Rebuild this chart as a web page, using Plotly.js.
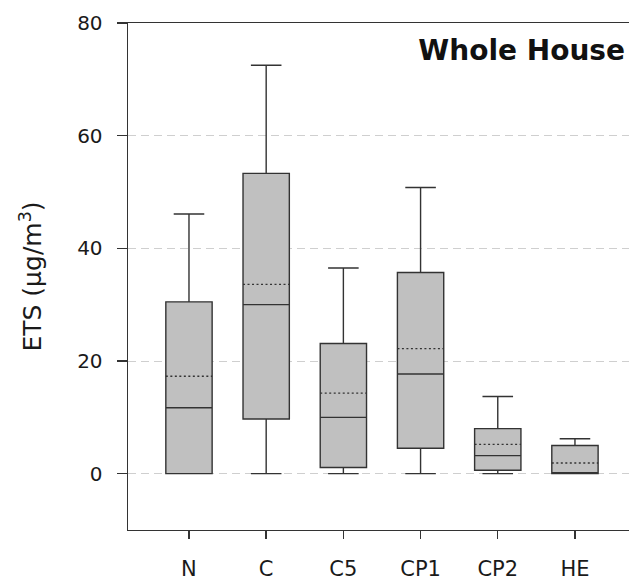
<!DOCTYPE html>
<html>
<head>
<meta charset="utf-8">
<script src="https://cdn.plot.ly/plotly-3.0.1.min.js"></script>
<style>
html, body { margin: 0; padding: 0; background: #fff; }
#chart { width: 629px; height: 580px; }
path.mean { stroke-dasharray: 2px,2.5px !important; }
</style>
</head>
<body>
<div id="chart"></div>
<script>
// Data (ETS, µg/m3)
var categories = ["N", "C", "C5", "CP1", "CP2", "HE"];
var lowerWhisker = [0, 0, 0, 0, 0, 0];
var q1Values = [0, 9.7, 1.1, 4.5, 0.6, 0];
var medianValues = [11.7, 30.0, 10.0, 17.7, 3.2, 0];
var q3Values = [30.5, 53.3, 23.1, 35.7, 8.0, 5.0];
var upperWhisker = [46.1, 72.5, 36.5, 50.8, 13.7, 6.2];
var meanValues = [17.3, 33.6, 14.3, 22.2, 5.2, 1.9];
var yTickValues = [0, 20, 40, 60, 80];

var trace = {
  type: 'box',
  x: categories,
  q1: q1Values,
  median: medianValues,
  q3: q3Values,
  lowerfence: lowerWhisker,
  upperfence: upperWhisker,
  mean: meanValues,
  boxmean: true,
  width: 0.6,
  whiskerwidth: 0.66,
  fillcolor: '#c0c0c0',
  line: { color: '#333333', width: 1.4 },
  boxpoints: false,
  hoverinfo: 'y',
  showlegend: false
};

var fontFamily = '"DejaVu Sans", "Liberation Sans", Arial, sans-serif';

var layout = {
  width: 629,
  height: 580,
  margin: { l: 128, r: 0, t: 23, b: 50 },
  paper_bgcolor: '#ffffff',
  plot_bgcolor: '#ffffff',
  title: {
    text: '<b>Whole House</b>',
    font: { family: fontFamily, size: 28, color: '#111' },
    xref: 'paper',
    x: 0.992,
    xanchor: 'right',
    yref: 'container',
    y: 1 - 50 / 580,
    yanchor: 'middle'
  },
  xaxis: {
    type: 'category',
    range: [-0.79, 5.7],
    showline: true,
    linecolor: '#333',
    linewidth: 1.4,
    mirror: true,
    ticks: 'outside',
    ticklen: 8,
    tickcolor: '#333',
    tickwidth: 1.4,
    ticklabelstandoff: 11,
    showgrid: false,
    tickfont: { family: fontFamily, size: 21, color: '#1a1a1a' }
  },
  yaxis: {
    range: [-10, 80],
    tickvals: yTickValues,
    showline: true,
    linecolor: '#333',
    linewidth: 1.4,
    ticks: 'outside',
    ticklen: 10,
    tickcolor: '#333',
    tickwidth: 1.4,
    ticklabelstandoff: 10,
    showgrid: true,
    gridcolor: '#cfcfcf',
    griddash: '8px,5px',
    gridwidth: 1,
    zeroline: false,
    tickfont: { family: fontFamily, size: 20, color: '#1a1a1a' },
    title: {
      text: 'ETS (µg/m<sup>3</sup>)',
      font: { family: fontFamily, size: 25, color: '#1a1a1a' },
      standoff: 28
    }
  }
};

Plotly.newPlot('chart', [trace], layout, { displayModeBar: false, staticPlot: true });
</script>
</body>
</html>
